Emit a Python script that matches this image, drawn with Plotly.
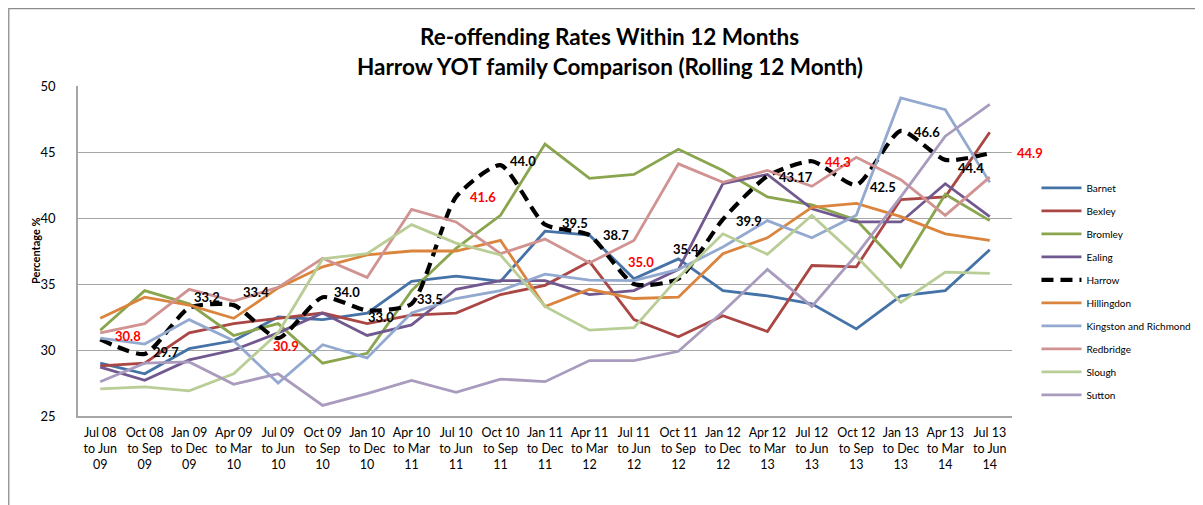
import plotly.graph_objects as go

categories = [
    "Jul 08<br>to Jun<br>09", "Oct 08<br>to Sep<br>09", "Jan 09<br>to Dec<br>09", "Apr 09<br>to Mar<br>10",
    "Jul 09<br>to Jun<br>10", "Oct 09<br>to Sep<br>10", "Jan 10<br>to Dec<br>10", "Apr 10<br>to Mar<br>11",
    "Jul 10<br>to Jun<br>11", "Oct 10<br>to Sep<br>11", "Jan 11<br>to Dec<br>11", "Apr 11<br>to Mar<br>12",
    "Jul 11<br>to Jun<br>12", "Oct 11<br>to Sep<br>12", "Jan 12<br>to Dec<br>12", "Apr 12<br>to Mar<br>13",
    "Jul 12<br>to Jun<br>13", "Oct 12<br>to Sep<br>13", "Jan 13<br>to Dec<br>13", "Apr 13<br>to Mar<br>14",
    "Jul 13<br>to Jun<br>14",
]

barnet = [29.0, 28.2, 30.1, 30.7, 32.5, 32.3, 32.8, 35.2, 35.6, 35.2, 39.0, 38.7, 35.4, 36.9, 34.5, 34.1, 33.5, 31.6, 34.1, 34.5, 37.6]
bexley = [28.8, 29.0, 31.3, 32.0, 32.4, 32.8, 32.0, 32.65, 32.8, 34.2, 34.9, 36.7, 32.3, 31.0, 32.6, 31.4, 36.4, 36.3, 41.4, 41.6, 46.5]
bromley = [31.5, 34.5, 33.5, 31.1, 32.0, 29.0, 29.75, 34.5, 37.7, 40.2, 45.6, 43.0, 43.3, 45.2, 43.6, 41.6, 41.0, 39.85, 36.3, 41.8, 39.8]
ealing = [28.7, 27.7, 29.25, 30.0, 31.3, 32.8, 31.1, 31.9, 34.6, 35.25, 35.25, 34.2, 34.5, 36.1, 42.6, 43.3, 40.7, 39.7, 39.7, 42.6, 40.1]
harrow = [30.8, 29.7, 33.2, 33.4, 30.9, 34.0, 33.0, 33.5, 41.6, 44.0, 39.5, 38.7, 35.0, 35.4, 39.9, 43.17, 44.3, 42.5, 46.6, 44.4, 44.9]
hillingdon = [32.4, 34.0, 33.4, 32.4, 34.7, 36.3, 37.2, 37.5, 37.5, 38.3, 33.3, 34.6, 33.9, 34.0, 37.3, 38.5, 40.8, 41.1, 40.1, 38.8, 38.3]
kingston = [30.9, 30.45, 32.3, 30.7, 27.5, 30.4, 29.4, 32.8, 33.9, 34.5, 35.75, 35.3, 35.25, 36.1, 37.8, 39.8, 38.5, 40.2, 49.1, 48.2, 42.7]
redbridge = [31.3, 32.0, 34.6, 33.7, 34.75, 36.95, 35.5, 40.65, 39.7, 37.3, 38.4, 36.6, 38.3, 44.1, 42.7, 43.6, 42.4, 44.6, 42.9, 40.2, 43.1]
slough = [27.05, 27.2, 26.9, 28.2, 31.3, 36.9, 37.3, 39.5, 38.1, 37.2, 33.3, 31.5, 31.7, 35.5, 38.8, 37.25, 40.2, 37.1, 33.6, 35.9, 35.8]
sutton = [27.6, 29.0, 29.1, 27.4, 28.2, 25.8, 26.7, 27.7, 26.8, 27.8, 27.6, 29.2, 29.2, 29.9, 32.9, 36.1, 33.3, 37.2, 41.6, 46.2, 48.6]

harrow_labels = ["30.8", "29.7", "33.2", "33.4", "30.9", "34.0", "33.0", "33.5", "41.6", "44.0", "39.5",
                 "38.7", "35.0", "35.4", "39.9", "43.17", "44.3", "42.5", "46.6", "44.4", "44.9"]
label_dx = [28, 21, 18, 22, 8, 24, 14, 18, 27, 22, 30, 27, 7, 8, 26, 29, 26, 27, 26, 26, 40]
label_dy = [3, 2, 11, 13, -8, 5, -7, 5, 0, 4, 2, 0, 22, 30, -2, -1, -1, -2, -1, -8, 0]

series = [
    ("Barnet", barnet, "#4572A7"),
    ("Bexley", bexley, "#AA4643"),
    ("Bromley", bromley, "#89A54E"),
    ("Ealing", ealing, "#71588F"),
    ("Harrow", harrow, "#000000"),
    ("Hillingdon", hillingdon, "#DB843D"),
    ("Kingston and Richmond", kingston, "#93A9CF"),
    ("Redbridge", redbridge, "#D19392"),
    ("Slough", slough, "#B9CD96"),
    ("Sutton", sutton, "#A99BBD"),
]

FONT = "Lato, 'Open Sans', sans-serif"
fig = go.Figure()
for name, vals, col in series:
    if name == "Harrow":
        line = dict(color=col, width=4.2, dash="12px,7px", shape="spline", smoothing=0.6)
    else:
        line = dict(color=col, width=2.8)
    fig.add_trace(go.Scatter(x=categories, y=vals, name=name, mode="lines", line=line,
                             legendgroup=name, hoverinfo="skip"))

annotations = []
for i, (cat, v, t) in enumerate(zip(categories, harrow, harrow_labels)):
    red = i % 4 == 0
    annotations.append(dict(x=cat, y=v, xref="x", yref="y", text=f"<b>{t}</b>", showarrow=False,
                            xshift=label_dx[i], yshift=label_dy[i],
                            font=dict(family=FONT, size=13, color="#FF0000" if red else "#000000")))

annotations += [
    dict(text="<b>Re-offending Rates Within 12 Months</b>", xref="paper", yref="paper", x=0.5693, y=1.1485,
         showarrow=False, font=dict(family=FONT, size=22.5, color="#000"), xanchor="center", yanchor="middle"),
    dict(text="<b>Harrow YOT family Comparison (Rolling 12 Month)</b>", xref="paper", yref="paper", x=0.5693,
         y=1.0576, showarrow=False, font=dict(family=FONT, size=22.5, color="#000"), xanchor="center", yanchor="middle"),
    dict(text="<b>Percentage %</b>", xref="paper", yref="paper", x=-0.046, y=0.5, textangle=-90,
         showarrow=False, font=dict(family=FONT, size=11, color="#000"), xanchor="center", yanchor="middle"),
]

fig.update_layout(
    width=1220, height=497,
    margin=dict(l=70, r=215.5, t=78, b=89),
    paper_bgcolor="white", plot_bgcolor="white",
    font=dict(family=FONT, color="#000"),
    showlegend=True,
    legend=dict(x=1.0262, y=0.735, xanchor="left", yanchor="top", font=dict(family=FONT, size=10, color="#000"),
                tracegroupgap=4, traceorder="grouped", bgcolor="rgba(0,0,0,0)", itemwidth=40),
    annotations=annotations,
    shapes=[dict(type="rect", xref="paper", yref="paper", x0=(0 - 70) / 934.5 + 0.0008, x1=1.5,
                 y0=-1, y1=1 + 78 / 330 - 0.002, line=dict(color="#8C8C8C", width=1.3), layer="below")],
)
fig.update_xaxes(showgrid=False, showline=True, linecolor="#A6A6A6", linewidth=1.5, ticks="",
                 tickfont=dict(family=FONT, size=12.5, color="#000"), tickangle=0, ticklabelstandoff=4,
                 range=[-0.5, 20.5])
fig.update_yaxes(range=[25, 50], dtick=5, showgrid=True, gridcolor="#A6A6A6", gridwidth=1.3,
                 showline=True, linecolor="#A6A6A6", linewidth=1.5, zeroline=False, ticks="",
                 tickfont=dict(family=FONT, size=13, color="#000"), ticklabelstandoff=18)

fig.write_html("out.html")
